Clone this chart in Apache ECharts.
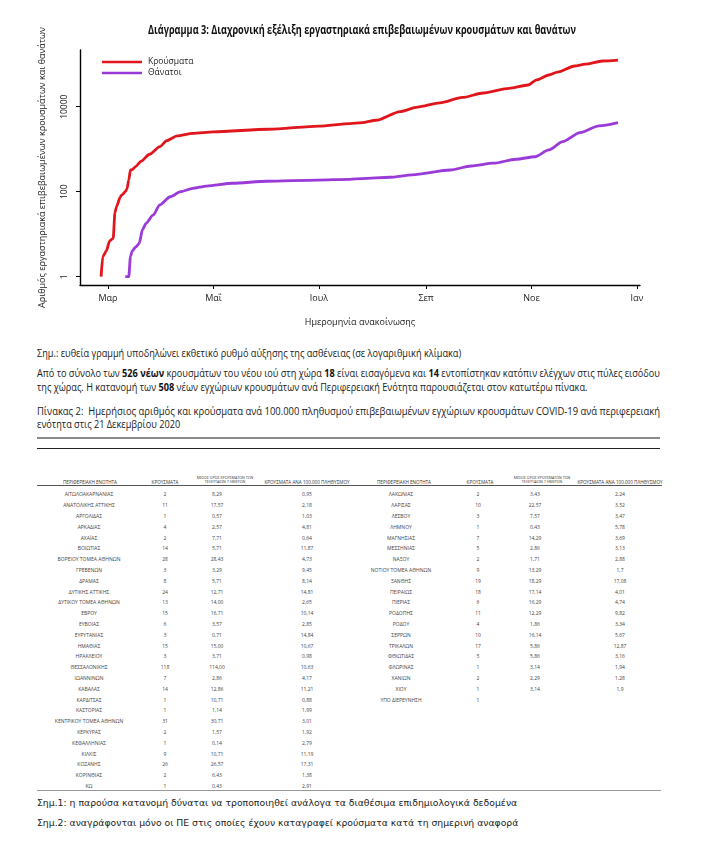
<!DOCTYPE html>
<html>
<head>
<meta charset="utf-8">
<script src="https://cdn.jsdelivr.net/npm/echarts@6/dist/echarts.min.js"></script>
<style>
html,body{margin:0;padding:0;background:#fff;}
body{width:715px;height:844px;position:relative;overflow:hidden;font-family:'Open Sans',sans-serif;}
#chart{position:absolute;left:0;top:0;width:715px;height:340px;}
.ln{position:absolute;white-space:nowrap;transform-origin:0 50%;color:#222;font-size:10px;line-height:12px;}
.ln b{font-weight:700;color:#111;}
.note{font-family:'DejaVu Sans',sans-serif;font-size:9.5px;color:#222;}
.rule{position:absolute;height:0;}
.cell{position:absolute;white-space:nowrap;font-size:5px;line-height:6px;color:#444;transform:translate(-50%,-50%);font-family:'Open Sans',sans-serif;}
.hd{font-size:4.6px;color:#333;}
.hd2{font-size:3.6px;line-height:4.5px;text-align:center;color:#333;}
</style>
</head>
<body>
<div id="chart"></div>

<div class="ln" id="L1" style="left:37px;top:352.7px;">Σημ.: ευθεία γραμμή υποδηλώνει εκθετικό ρυθμό αύξησης της ασθένειας (σε λογαριθμική κλίμακα)</div>
<div class="ln" id="L2" data-w="623" style="left:37px;top:373.3px;">Από το σύνολο των <b>526 νέων</b> κρουσμάτων του νέου ιού στη χώρα <b>18</b> είναι εισαγόμενα και <b>14</b> εντοπίστηκαν κατόπιν ελέγχων στις πύλες εισόδου</div>
<div class="ln" id="L3" style="left:37px;top:386.7px;">της χώρας. Η κατανομή των <b>508</b> νέων εγχώριων κρουσμάτων ανά Περιφερειακή Ενότητα παρουσιάζεται στον κατωτέρω πίνακα.</div>
<div class="ln" id="L4" data-w="623" style="left:37px;top:410.5px;">Πίνακας 2:&nbsp; Ημερήσιος αριθμός και κρούσματα ανά 100.000 πληθυσμού επιβεβαιωμένων εγχώριων κρουσμάτων COVID-19 ανά περιφερειακή</div>
<div class="ln" id="L5" style="left:37px;top:424px;">ενότητα στις 21 Δεκεμβρίου 2020</div>

<div class="rule" style="left:37px;width:623px;top:437px;border-top:2px solid #8a8a8a;"></div>
<div class="rule" style="left:37px;width:623px;top:448px;border-top:1.5px solid #222;"></div>

<div id="table"></div>

<div class="rule" style="left:37px;width:625px;top:484.5px;border-top:1.3px solid #555;"></div>
<div class="rule" style="left:37px;width:624px;top:789.5px;border-top:1.3px solid #999;"></div>

<div class="ln note" data-w="480" style="left:37px;top:803.3px;">Σημ.1: η παρούσα κατανομή δύναται να τροποποιηθεί ανάλογα τα διαθέσιμα επιδημιολογικά δεδομένα</div>
<div class="ln note" data-w="481" style="left:37px;top:823.3px;">Σημ.2: αναγράφονται μόνο οι ΠΕ στις οποίες έχουν καταγραφεί κρούσματα κατά τη σημερινή αναφορά</div>

<script>
// ---------------- Chart data ----------------
const casesDates = ['2020-02-26','2020-02-27','2020-02-29','2020-03-02','2020-03-04','2020-03-05','2020-03-06','2020-03-08','2020-03-09','2020-03-11','2020-03-12','2020-03-13','2020-03-14','2020-03-15','2020-03-17','2020-03-20','2020-03-25','2020-03-31','2020-04-04','2020-04-10','2020-04-19','2020-05-01','2020-06-02','2020-07-01','2020-07-19','2020-07-26','2020-08-03','2020-08-17','2020-08-27','2020-09-09','2020-09-22','2020-10-04','2020-10-19','2020-10-30','2020-11-04','2020-11-11','2020-11-16','2020-11-26','2020-12-02','2020-12-12','2020-12-21'];
const casesValues = [1,3,4,7,8,32,45,73,84,100,117,190,325,331,390,515,760,1150,1590,2050,2360,2570,2950,3500,4000,4200,4800,7700,9800,12300,16500,21000,27000,32400,43000,55700,65000,90800,100000,119000,125000];

const deathsDates = ['2020-03-11','2020-03-13','2020-03-14','2020-03-15','2020-03-17','2020-03-19','2020-03-21','2020-03-23','2020-03-27','2020-03-31','2020-04-06','2020-04-12','2020-04-19','2020-04-27','2020-05-12','2020-06-01','2020-06-30','2020-07-19','2020-07-26','2020-08-11','2020-08-24','2020-09-15','2020-09-27','2020-10-10','2020-10-23','2020-11-03','2020-11-11','2020-11-19','2020-11-29','2020-12-10','2020-12-21'];
const deathsValues = [1,1,3,4,5,6,13,18,28,49,76,100,120,136,158,176,188,196,204,219,249,324,403,468,580,665,960,1500,2450,3530,4200];

const seriesNames = ['Κρούσματα','Θάνατοι'];
const xTickDates = ['2020-03-01','2020-05-01','2020-07-01','2020-09-01','2020-11-01','2021-01-01'];
const monthLabels = ['Ιαν','Φεβ','Μαρ','Απρ','Μαΐ','Ιουν','Ιουλ','Αυγ','Σεπ','Οκτ','Νοε','Δεκ'];
const yTickValues = [1, 100, 10000];

const chartTitle = 'Διάγραμμα 3: Διαχρονική εξέλιξη εργαστηριακά επιβεβαιωμένων κρουσμάτων και θανάτων';
const xAxisName = 'Ημερομηνία ανακοίνωσης';
const yAxisName = 'Αριθμός εργαστηριακά επιβεβαιωμένων κρουσμάτων και θανάτων';

// ---------------- Table data ----------------
const tableHeaders = ['ΠΕΡΙΦΕΡΕΙΑΚΗ ΕΝΟΤΗΤΑ','ΚΡΟΥΣΜΑΤΑ','ΜΕΣΟΣ ΟΡΟΣ ΚΡΟΥΣΜΑΤΩΝ ΤΩΝ|ΤΕΛΕΥΤΑΙΩΝ 7 ΗΜΕΡΩΝ','ΚΡΟΥΣΜΑΤΑ ΑΝΑ 100.000 ΠΛΗΘΥΣΜΟΥ'];
const leftNames = ['ΑΙΤΩΛΟΑΚΑΡΝΑΝΙΑΣ','ΑΝΑΤΟΛΙΚΗΣ ΑΤΤΙΚΗΣ','ΑΡΓΟΛΙΔΑΣ','ΑΡΚΑΔΙΑΣ','ΑΧΑΪΑΣ','ΒΟΙΩΤΙΑΣ','ΒΟΡΕΙΟΥ ΤΟΜΕΑ ΑΘΗΝΩΝ','ΓΡΕΒΕΝΩΝ','ΔΡΑΜΑΣ','ΔΥΤΙΚΗΣ ΑΤΤΙΚΗΣ','ΔΥΤΙΚΟΥ ΤΟΜΕΑ ΑΘΗΝΩΝ','ΕΒΡΟΥ','ΕΥΒΟΙΑΣ','ΕΥΡΥΤΑΝΙΑΣ','ΗΜΑΘΙΑΣ','ΗΡΑΚΛΕΙΟΥ','ΘΕΣΣΑΛΟΝΙΚΗΣ','ΙΩΑΝΝΙΝΩΝ','ΚΑΒΑΛΑΣ','ΚΑΡΔΙΤΣΑΣ','ΚΑΣΤΟΡΙΑΣ','ΚΕΝΤΡΙΚΟΥ ΤΟΜΕΑ ΑΘΗΝΩΝ','ΚΕΡΚΥΡΑΣ','ΚΕΦΑΛΛΗΝΙΑΣ','ΚΙΛΚΙΣ','ΚΟΖΑΝΗΣ','ΚΟΡΙΝΘΙΑΣ','ΚΩ'];
const leftCases = ['2','11','1','4','2','14','28','3','8','24','13','15','6','3','15','3','118','7','14','1','1','31','2','1','9','26','2','1'];
const leftAvg7 = ['8,29','17,57','0,57','2,57','7,71','5,71','28,43','3,29','5,71','12,71','14,00','16,71','3,57','0,71','15,00','3,71','114,00','2,86','12,86','10,71','1,14','30,71','1,57','0,14','10,71','26,57','6,43','0,43'];
const leftPer100k = ['0,95','2,18','1,03','4,81','0,64','11,87','4,73','9,45','8,14','14,81','2,65','10,14','2,85','14,84','10,67','0,98','10,63','4,17','11,21','0,88','1,99','3,01','1,92','2,79','11,19','17,31','1,38','2,91'];

const rightNames = ['ΛΑΚΩΝΙΑΣ','ΛΑΡΙΣΑΣ','ΛΕΣΒΟΥ','ΛΗΜΝΟΥ','ΜΑΓΝΗΣΙΑΣ','ΜΕΣΣΗΝΙΑΣ','ΝΑΞΟΥ','ΝΟΤΙΟΥ ΤΟΜΕΑ ΑΘΗΝΩΝ','ΞΑΝΘΗΣ','ΠΕΙΡΑΙΩΣ','ΠΙΕΡΙΑΣ','ΡΟΔΟΠΗΣ','ΡΟΔΟΥ','ΣΕΡΡΩΝ','ΤΡΙΚΑΛΩΝ','ΦΘΙΩΤΙΔΑΣ','ΦΛΩΡΙΝΑΣ','ΧΑΝΙΩΝ','ΧΙΟΥ','ΥΠΟ ΔΙΕΡΕΥΝΗΣΗ'];
const rightCases = ['2','10','3','1','7','5','2','9','19','18','6','11','4','10','17','5','1','2','1','1'];
const rightAvg7 = ['3,43','22,57','7,57','0,43','14,29','2,86','1,71','13,29','18,29','17,14','16,29','12,29','1,86','16,14','5,86','5,86','3,14','2,29','3,14',''];
const rightPer100k = ['2,24','3,52','3,47','5,78','3,69','3,13','2,88','1,7','17,08','4,01','4,74','9,82','3,34','5,67','12,87','3,16','1,94','1,28','1,9',''];

// ---------------- Table ----------------
const tbl = document.getElementById('table');
function cell(txt, x, y, cls){
  const e = document.createElement('div');
  e.className = 'cell' + (cls ? ' ' + cls : '');
  e.style.left = x + 'px'; e.style.top = y + 'px';
  e.innerHTML = txt;
  tbl.appendChild(e);
}
const ROW0 = 494.3, ROWH = 10.8;
function drawBlock(cols, names, cases, avg, per){
  cell(tableHeaders[0], cols.h[0], 482, 'hd');
  cell(tableHeaders[1], cols.h[1], 482, 'hd');
  cell(tableHeaders[2].replace('|','<br>'), cols.h[2], 479.6, 'hd2');
  cell(tableHeaders[3], cols.h[3], 482, 'hd');
  names.forEach((n,i)=>{
    const y = ROW0 + i*ROWH;
    cell(n, cols.v[0], y);
    cell(cases[i], cols.v[1], y);
    if (avg[i]) cell(avg[i], cols.v[2], y);
    if (per[i]) cell(per[i], cols.v[3], y);
  });
}
drawBlock({h:[90,165,225,307], v:[89,165,217,307]}, leftNames, leftCases, leftAvg7, leftPer100k);
drawBlock({h:[404,480,542,620], v:[401,478,535,620]}, rightNames, rightCases, rightAvg7, rightPer100k);

// ---------------- Fit text lines ----------------
function setScale(el, s){ el.style.transform = 'translateY(-50%) scaleX(' + s.toFixed(4) + ')'; }
const baseScale = 623 / document.getElementById('L2').offsetWidth;
['L1','L2','L3','L5'].forEach(id => setScale(document.getElementById(id), baseScale));
document.querySelectorAll('.ln[data-w]').forEach(el=>{
  if (el.id === 'L2') return;
  setScale(el, parseFloat(el.dataset.w) / el.offsetWidth);
});

// ---------------- Chart ----------------
function toTs(s){ const p = s.split('-').map(Number); return new Date(p[0], p[1]-1, p[2]).getTime(); }
const DAY = 864e5;
const xMin = toTs('2020-03-01') - 16.2 * DAY;
const xMax = toTs('2021-01-01') + 1.74 * DAY;
const xTicks = xTickDates.map(toTs);

// condensed bold title: measure natural width, squeeze to the reference width
const TITLE_FONT = "bold 12px 'Open Sans', sans-serif";
const mctx = document.createElement('canvas').getContext('2d');
mctx.font = TITLE_FONT;
const titleScale = 428 / mctx.measureText(chartTitle).width;

const chart = echarts.init(document.getElementById('chart'), null, {renderer: 'canvas'});
chart.setOption({
  animation: false,
  backgroundColor: 'transparent',
  graphic: [{
    type: 'text', x: 362, y: 30, scaleX: titleScale, scaleY: 1.05,
    style: {text: chartTitle, font: TITLE_FONT, fill: '#111', align: 'center', verticalAlign: 'middle'}
  }],
  legend: {
    data: seriesNames,
    orient: 'vertical', left: 97, top: 51.5,
    icon: 'rect', itemWidth: 40, itemHeight: 2.6, itemGap: 0, itemStyle: {},
    selectedMode: false,
    textStyle: {fontFamily: "'Open Sans',sans-serif", fontSize: 8.5, color: '#222', lineHeight: 11, padding: [0,0,0,1]}
  },
  grid: {left: 80, right: 75, top: 50, bottom: 55, containLabel: false},
  xAxis: {
    type: 'value', min: xMin, max: xMax,
    name: xAxisName, nameLocation: 'middle', nameGap: 33,
    nameTextStyle: {fontFamily: "'Open Sans',sans-serif", fontSize: 9, color: '#222'},
    axisLine: {show: true, lineStyle: {color: '#000', width: 1.4}},
    axisTick: {show: true, length: 4, customValues: xTicks, lineStyle: {color: '#000', width: 1}},
    axisLabel: {customValues: xTicks, margin: 9, fontSize: 9, color: '#222', fontFamily: "'Open Sans',sans-serif",
      formatter: function(v){ return monthLabels[new Date(v).getMonth()]; }},
    splitLine: {show: false}
  },
  yAxis: {
    type: 'log', logBase: 10, min: 0.638, max: 215900,
    name: yAxisName, nameLocation: 'middle', nameGap: 33, nameRotate: 90,
    nameTextStyle: {fontFamily: "'Open Sans',sans-serif", fontSize: 9, color: '#222'},
    axisLine: {show: true, lineStyle: {color: '#000', width: 1.4}},
    axisTick: {show: true, length: 4, customValues: yTickValues, lineStyle: {color: '#000', width: 1}},
    axisLabel: {customValues: yTickValues, rotate: 90, margin: 11, fontSize: 8.5, color: '#222', fontFamily: "'Open Sans',sans-serif",
      formatter: function(v){ return String(Math.round(v)); }},
    splitLine: {show: false}
  },
  series: [
    {name: seriesNames[0], type: 'line', showSymbol: false, smooth: 0.25, smoothMonotone: 'x',
     data: casesDates.map((d,i)=>[toTs(d), casesValues[i]]),
     lineStyle: {color: '#e0161c', width: 2.8}, itemStyle: {color: '#e0161c'}},
    {name: seriesNames[1], type: 'line', showSymbol: false, smooth: 0.25, smoothMonotone: 'x',
     data: deathsDates.map((d,i)=>[toTs(d), deathsValues[i]]),
     lineStyle: {color: '#9a3ad8', width: 2.8}, itemStyle: {color: '#9a3ad8'}}
  ]
});
</script>
</body>
</html>
